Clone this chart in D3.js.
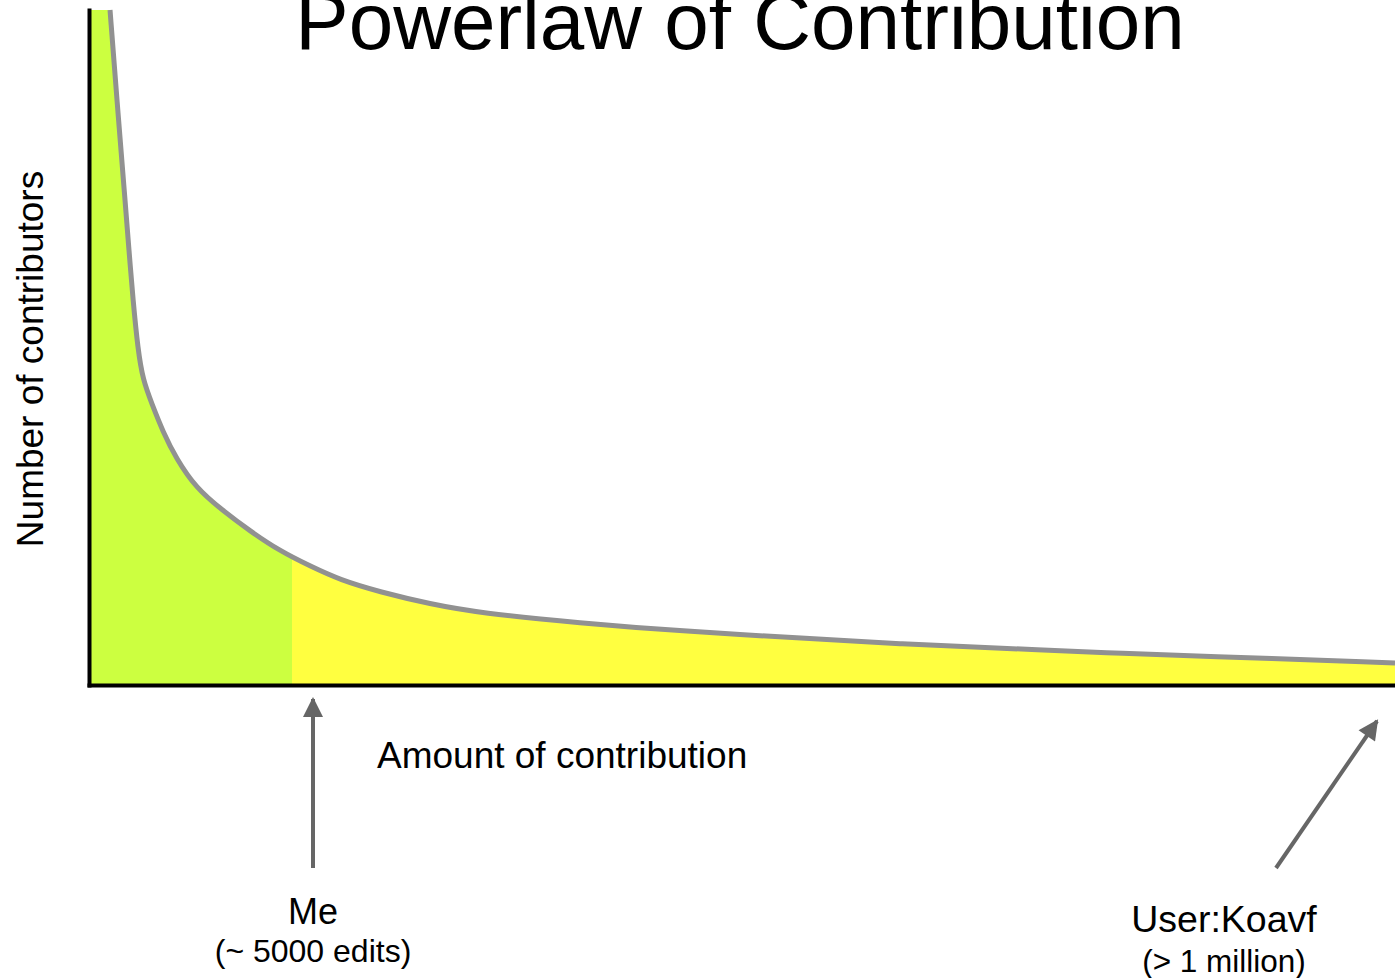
<!DOCTYPE html>
<html>
<head>
<meta charset="utf-8">
<script src="https://cdn.jsdelivr.net/npm/d3@7"></script>
<style>
  html, body { margin: 0; padding: 0; background: #fff; overflow: hidden; }
  text { font-family: "Liberation Sans", Arial, sans-serif; fill: #000; }
</style>
</head>
<body>
<div id="chart"></div>
<script>
// amount of contribution (arbitrary units, 0-100)
const contribution = [1.61, 2.14, 2.76, 3.06, 3.37, 3.75, 4.13, 4.82, 5.67, 6.66, 8.19, 10.18, 12.33, 14.62, 16.92, 19.22, 22.28, 26.11, 29.94, 37.6, 45.25, 54.44, 62.1, 69.75, 78.18, 85.07, 100];
// number of contributors (arbitrary units, 0-100)
const contributors = [100, 86.67, 71.85, 64.44, 57.04, 49.63, 45.19, 41.63, 37.48, 33.63, 29.19, 25.93, 22.81, 19.85, 17.63, 15.56, 13.78, 12.0, 10.67, 9.19, 8.0, 6.96, 6.07, 5.48, 4.74, 4.3, 3.26];

const meContribution = 15.54;
const titleText = 'Powerlaw of Contribution';
const xLabel = 'Amount of contribution';
const yLabel = 'Number of contributors';
const notes = [
  { name: 'Me', detail: '(~ 5000 edits)' },
  { name: 'User:Koavf', detail: '(> 1 million)' }
];

const width = 1395;
const height = 978;

const svg = d3.select('#chart')
  .append('svg')
  .attr('width', width)
  .attr('height', height);

const x = d3.scaleLinear().domain([0, 100]).range([89, 1395]);
const y = d3.scaleLinear().domain([0, 100]).range([685, 10]);

const points = contribution.map((c, i) => ({ x: c, y: contributors[i] }));

const line = d3.line()
  .x(d => x(d.x))
  .y(d => y(d.y))
  .curve(d3.curveBasis);

const curvePath = line(points);
const last = points[points.length - 1];
const areaPath = curvePath +
  `L${x(last.x)},${y(0)}L${x(0)},${y(0)}L${x(0)},${y(points[0].y)}Z`;

const defs = svg.append('defs');
defs.append('clipPath').attr('id', 'me-clip')
  .append('rect')
  .attr('x', x(0))
  .attr('y', 0)
  .attr('width', x(meContribution) - x(0))
  .attr('height', height);

svg.append('path')
  .attr('d', areaPath)
  .attr('fill', '#ffff40');

svg.append('path')
  .attr('d', areaPath)
  .attr('fill', '#ccff40')
  .attr('clip-path', 'url(#me-clip)');

svg.append('path')
  .attr('d', curvePath)
  .attr('fill', 'none')
  .attr('stroke', '#919191')
  .attr('stroke-width', 5)
  .attr('stroke-linecap', 'butt');

// axes, no ticks
const xAxis = svg.append('g')
  .attr('transform', `translate(0,${y(0)})`)
  .call(d3.axisBottom(x).tickValues([]).tickSizeOuter(0));
const yAxis = svg.append('g')
  .attr('transform', `translate(${x(0)},0)`)
  .call(d3.axisLeft(y).tickValues([]).tickSizeOuter(0));
[xAxis, yAxis].forEach(a => a.select('.domain')
  .attr('stroke', '#000')
  .attr('stroke-width', 4)
  .attr('stroke-linecap', 'square'));

// title + axis labels (title is cut at the top edge, as in the original)
svg.append('text')
  .attr('x', 740)
  .attr('y', 49)
  .attr('text-anchor', 'middle')
  .style('font-size', '80px')
  .text(titleText);

svg.append('text')
  .attr('x', 377)
  .attr('y', 768)
  .style('font-size', '37px')
  .text(xLabel);

svg.append('text')
  .attr('transform', 'translate(43,359) rotate(-90)')
  .attr('text-anchor', 'middle')
  .style('font-size', '37px')
  .text(yLabel);

// arrows
defs.append('marker')
  .attr('id', 'head')
  .attr('viewBox', '0 0 10 10')
  .attr('refX', 9)
  .attr('refY', 5)
  .attr('markerUnits', 'userSpaceOnUse')
  .attr('markerWidth', 22)
  .attr('markerHeight', 20)
  .attr('orient', 'auto')
  .append('path')
  .attr('d', 'M0,0L10,5L0,10Z')
  .attr('fill', '#666');

const arrows = [
  { x1: 313, y1: 868, x2: 313, y2: 699, tx: 313, ty: 924, dy: 962 },
  { x1: 1276, y1: 868, x2: 1377, y2: 721, tx: 1224, ty: 932, dy: 972 }
];

arrows.forEach((a, i) => {
  svg.append('line')
    .attr('x1', a.x1).attr('y1', a.y1)
    .attr('x2', a.x2).attr('y2', a.y2)
    .attr('stroke', '#666')
    .attr('stroke-width', 4)
    .attr('marker-end', 'url(#head)');
  svg.append('text')
    .attr('x', a.tx).attr('y', a.ty)
    .attr('text-anchor', 'middle')
    .style('font-size', i === 0 ? '36px' : '37.5px')
    .text(notes[i].name);
  svg.append('text')
    .attr('x', a.tx).attr('y', a.dy)
    .attr('text-anchor', 'middle')
    .style('font-size', i === 0 ? '32px' : '31.5px')
    .text(notes[i].detail);
});
</script>
</body>
</html>
